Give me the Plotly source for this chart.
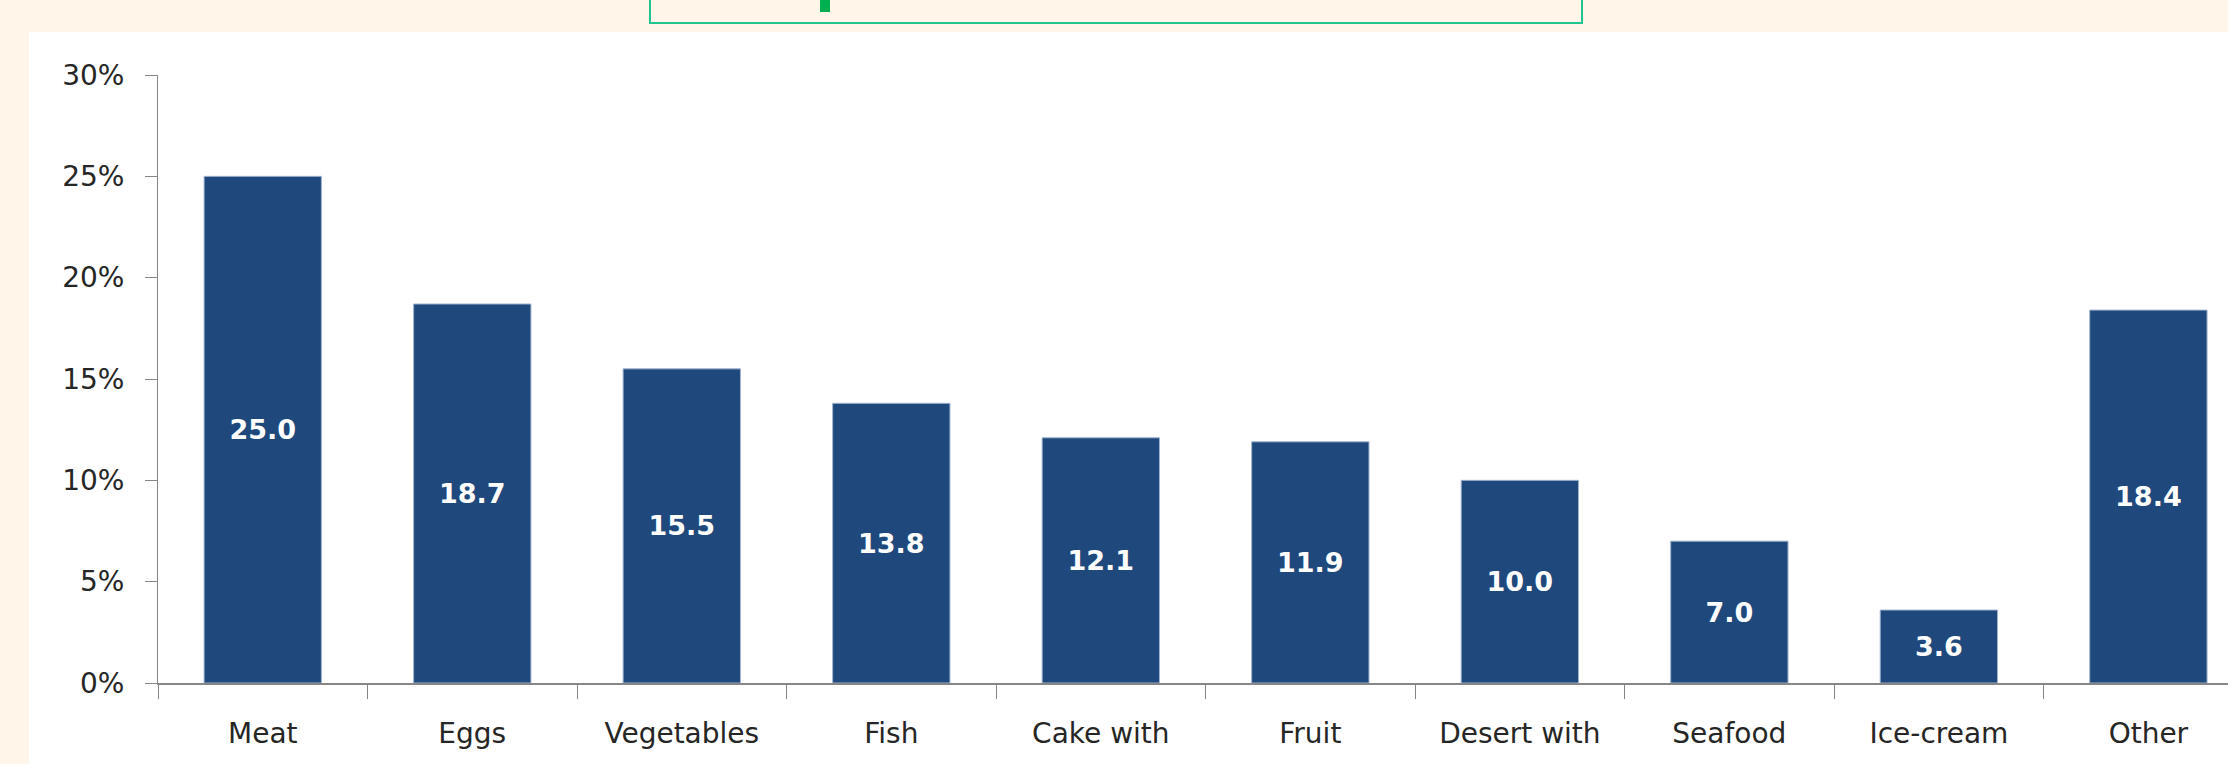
import plotly.graph_objects as go

categories = ["Meat", "Eggs", "Vegetables", "Fish", "Cake with", "Fruit",
              "Desert with", "Seafood", "Ice-cream", "Other"]
values_pct = [25.0, 18.7, 15.5, 13.8, 12.1, 11.9, 10.0, 7.0, 3.6, 18.4]
y_ticks = [0, 0.05, 0.10, 0.15, 0.20, 0.25, 0.30]

W, H = 2228, 764
L, R, T, B = 158, 0, 75, 81
CREAM = "#FFF6E9"
BAR = "#1F497D"
AXIS = "#868686"

fig = go.Figure()
fig.add_trace(go.Bar(
    x=categories,
    y=[v / 100 for v in values_pct],
    width=0.56,
    marker=dict(color=BAR, line=dict(color="#9FB3CE", width=1)),
    text=[f"{v:.1f}" for v in values_pct],
    textposition="inside",
    insidetextanchor="middle",
    textangle=0,
    textfont=dict(family="DejaVu Sans", size=27, color="white", weight="bold"),
    cliponaxis=False,
))

pw = W - L - R
ph = H - T - B
def px_x(x):
    return (x - L) / pw
def px_y(y):
    return 1 - (y - T) / ph

shapes = [
    # white chart area over cream background
    dict(type="rect", xref="paper", yref="paper", layer="below",
         x0=px_x(29), x1=px_x(W + 5), y0=px_y(H + 5), y1=px_y(32),
         fillcolor="white", line=dict(width=0)),
    # green framed box at top
    dict(type="rect", xref="paper", yref="paper", layer="above",
         x0=px_x(650), x1=px_x(1582), y0=px_y(23), y1=px_y(-10),
         fillcolor=CREAM, line=dict(color="#20C48C", width=2)),
    # green mark inside the box
    dict(type="rect", xref="paper", yref="paper", layer="above",
         x0=px_x(820), x1=px_x(830), y0=px_y(12), y1=px_y(-5),
         fillcolor="#00B050", line=dict(width=0)),
]

fig.update_layout(
    width=W, height=H,
    margin=dict(l=L, r=R, t=T, b=B, autoexpand=False),
    paper_bgcolor=CREAM,
    plot_bgcolor="rgba(0,0,0,0)",
    showlegend=False,
    shapes=shapes,
    bargap=0.44,
)
fig.update_xaxes(
    type="category",
    range=[-0.5, 9.38],
    showline=True, linecolor=AXIS, linewidth=2,
    ticks="outside", tickson="boundaries", ticklen=14, tickcolor=AXIS, tickwidth=1,
    tickfont=dict(family="DejaVu Sans", size=28, color="#262626"),
    ticklabelstandoff=24,
    showgrid=False, zeroline=False,
)
fig.update_yaxes(
    range=[0, 0.30],
    tickvals=y_ticks,
    tickformat=".0%",
    showline=True, linecolor=AXIS, linewidth=1,
    ticks="outside", ticklen=12, tickcolor=AXIS, tickwidth=1,
    tickfont=dict(family="DejaVu Sans", size=28, color="#262626"),
    ticklabelstandoff=15,
    showgrid=False, zeroline=False,
)

fig.write_html("out.html")
